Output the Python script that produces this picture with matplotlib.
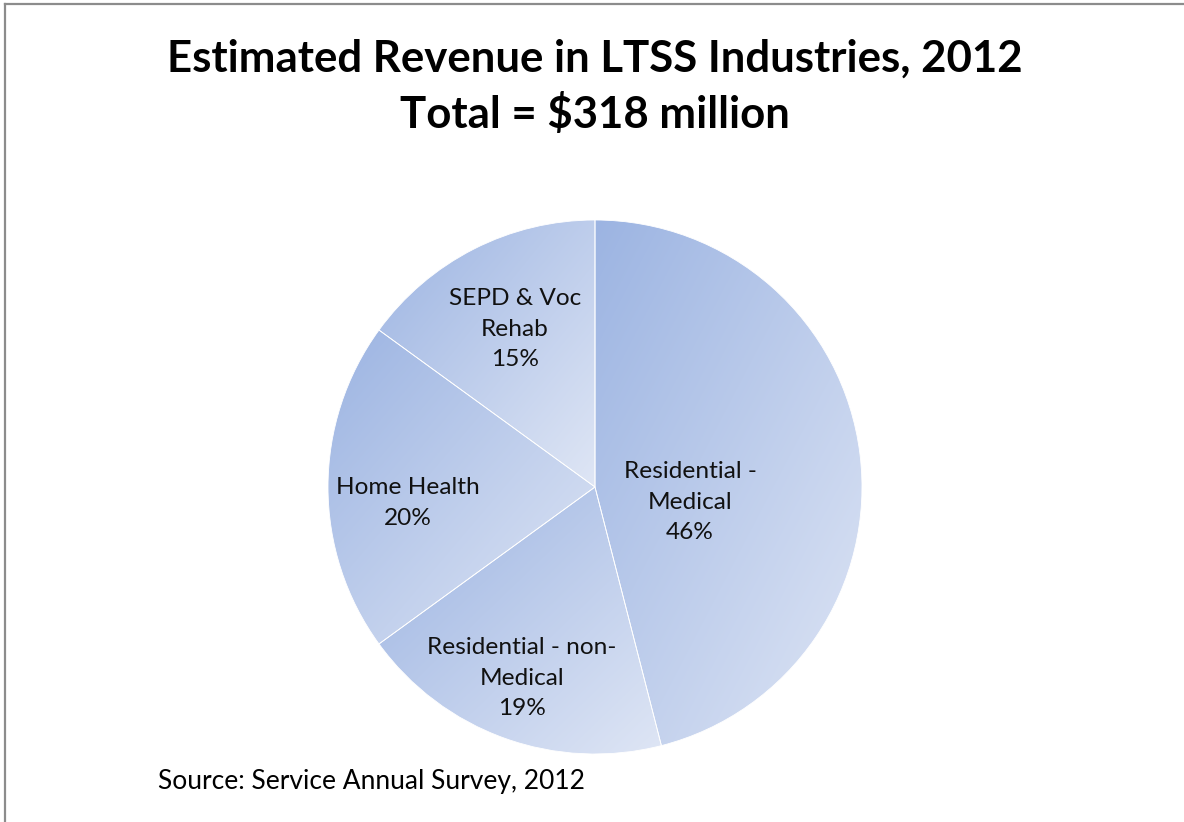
import numpy as np
import matplotlib
matplotlib.use('Agg')
import matplotlib.pyplot as plt
from matplotlib.colors import LinearSegmentedColormap
from matplotlib.lines import Line2D

# ── Data ──
categories = ['Residential -\nMedical', 'Residential - non-\nMedical', 'Home Health', 'SEPD & Voc\nRehab']
shares = [46, 19, 20, 15]
title = 'Estimated Revenue in LTSS Industries, 2012\nTotal = $318 million'
source = 'Source: Service Annual Survey, 2012'

# label anchor points (pixels, y measured from top)
label_pos = [(690, 502), (522, 678), (408, 503), (515, 329)]

W, H = 1184, 822
plt.rcParams['font.family'] = ['Lato', 'DejaVu Sans']

fig = plt.figure(figsize=(W / 100, H / 100), dpi=100)
ax = fig.add_axes([0, 0, 1, 1])

wedges, _ = ax.pie(shares, center=(595, H - 487), radius=267, startangle=90,
                   counterclock=False, frame=True,
                   wedgeprops=dict(edgecolor='white', linewidth=0.6))
ax.set_xlim(0, W)
ax.set_ylim(0, H)
ax.set_aspect('equal')
ax.axis('off')

# each slice gets its own diagonal gradient: darker top-left, lighter bottom-right
cmap = LinearSegmentedColormap.from_list('slice', ['#9cb4e2', '#dfe6f5'])
gx, gy = np.meshgrid(np.linspace(0, 1, 200), np.linspace(0, 1, 200))
grad = (gx + gy) / 2
for w in wedges:
    verts = w.get_path().vertices
    x0, y0 = verts.min(axis=0)
    x1, y1 = verts.max(axis=0)
    im = ax.imshow(grad, cmap=cmap, extent=(x0, x1, y0, y1), origin='upper',
                   interpolation='bilinear', zorder=w.get_zorder() - 0.1)
    im.set_clip_path(w)
    w.set_facecolor('none')

for cat, share, (px, py) in zip(categories, shares, label_pos):
    ax.text(px, H - py, f'{cat}\n{share}%', ha='center', va='center',
            fontsize=17.6, linespacing=1.55, color='#111111')

ax.text(595, H - 87, title, ha='center', va='center', fontsize=31.5,
        fontweight='bold', linespacing=1.42)
ax.text(158, H - 781, source, ha='left', va='center', fontsize=19)

# outer border (top and left edges visible)
fig.add_artist(Line2D([4.5 / W, 1], [1 - 4.5 / H, 1 - 4.5 / H], transform=fig.transFigure,
                      color='#8c8c8c', linewidth=1.6))
fig.add_artist(Line2D([4.5 / W, 4.5 / W], [0, 1 - 4.5 / H], transform=fig.transFigure,
                      color='#8c8c8c', linewidth=1.6))

fig.savefig('out.png', dpi=100)
